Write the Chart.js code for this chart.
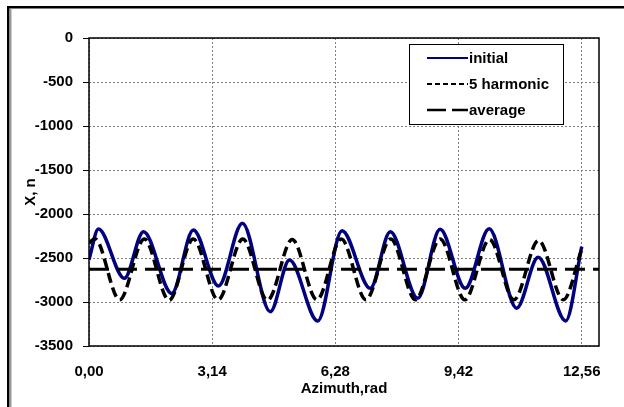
<!DOCTYPE html>
<html>
<head>
<meta charset="utf-8">
<script src="https://cdn.jsdelivr.net/npm/chart.js@4"></script>
<style>
  html, body { margin: 0; padding: 0; background: #fff; }
  canvas { display: block; }
</style>
</head>
<body>
<canvas id="chart" width="624" height="407"></canvas>
<script>
// values
const xTicks = [0, 3.14, 6.28, 9.42, 12.56];

const initX = [0, 0.24, 0.90, 1.39, 2.11, 2.66, 3.30, 3.91, 4.62, 5.11, 5.83, 6.45, 7.17, 7.68, 8.38, 8.95, 9.59, 10.20, 10.90, 11.45, 12.15, 12.56];
const initY = [-2520, -2170, -2731, -2201, -2902, -2182, -2818, -2106, -3110, -2523, -3216, -2190, -2845, -2201, -2958, -2174, -2845, -2168, -3070, -2492, -3215, -2371];

const harmX = [0, 0.15, 0.78, 1.41, 2.04, 2.66, 3.29, 3.92, 4.55, 5.18, 5.81, 6.43, 7.06, 7.69, 8.32, 8.95, 9.58, 10.21, 10.83, 11.46, 12.09, 12.56];
const harmY = [-2330, -2280, -2975, -2285, -2980, -2285, -2975, -2285, -2980, -2290, -2975, -2285, -2975, -2285, -2975, -2285, -2975, -2290, -2975, -2300, -2975, -2400];

const avgX = [0, 13];
const avgY = [-2628, -2628];

const FONT = "'Liberation Sans', Arial, sans-serif";

function pts(xs, ys) {
  return xs.map((x, i) => ({ x: x, y: ys[i] }));
}

// white background, outer frame, plot frame and the boxed legend
const framePlugin = {
  id: 'frame',
  beforeDraw(chart) {
    const ctx = chart.ctx;
    ctx.save();
    ctx.fillStyle = '#fff';
    ctx.fillRect(0, 0, chart.width, chart.height);
    ctx.fillStyle = '#000';
    ctx.fillRect(7, 6, chart.width - 7, 2.5);
    ctx.fillRect(7, 6, 2.5, chart.height - 6);
    ctx.fillStyle = '#999';
    ctx.fillRect(9.5, 8.5, 2, chart.height - 8.5);
    ctx.restore();
  },
  afterDraw(chart) {
    const ctx = chart.ctx;
    const a = chart.chartArea;
    ctx.save();
    ctx.strokeStyle = '#000';
    ctx.lineWidth = 1.5;
    ctx.strokeRect(a.left, a.top, a.right - a.left, a.bottom - a.top);

    // legend
    const bx = 409.5, by = 44.5, bw = 154, bh = 80;
    ctx.fillStyle = '#fff';
    ctx.fillRect(bx, by, bw, bh);
    ctx.lineWidth = 1;
    ctx.strokeStyle = '#000';
    ctx.strokeRect(bx, by, bw, bh);
    const rows = [58, 84, 110];
    const dashes = [[], [5, 3], [19, 6]];
    const widths = [2, 2, 2.5];
    chart.data.datasets.forEach((ds, i) => {
      ctx.beginPath();
      ctx.setLineDash(dashes[i]);
      ctx.lineWidth = widths[i];
      ctx.strokeStyle = ds.borderColor;
      ctx.moveTo(427, rows[i]);
      ctx.lineTo(468, rows[i]);
      ctx.stroke();
      ctx.setLineDash([]);
      ctx.fillStyle = '#000';
      ctx.font = 'bold 15px ' + FONT;
      ctx.textBaseline = 'middle';
      ctx.textAlign = 'left';
      ctx.fillText(ds.label, 469, rows[i] + 1);
    });
    ctx.restore();
  }
};

new Chart(document.getElementById('chart'), {
  type: 'line',
  data: {
    datasets: [
      {
        label: 'initial',
        data: pts(initX, initY),
        borderColor: '#000080',
        borderWidth: 3.5,
        cubicInterpolationMode: 'monotone',
        pointRadius: 0,
        order: 3
      },
      {
        label: '5 harmonic',
        data: pts(harmX, harmY),
        borderColor: '#000',
        borderWidth: 3.5,
        borderDash: [10, 5],
        cubicInterpolationMode: 'monotone',
        pointRadius: 0,
        order: 2
      },
      {
        label: 'average',
        data: pts(avgX, avgY),
        borderColor: '#000',
        borderWidth: 3,
        borderDash: [20, 8],
        pointRadius: 0,
        order: 1
      }
    ]
  },
  options: {
    responsive: false,
    animation: false,
    layout: { padding: { left: 12, top: 38, right: 25, bottom: 0 } },
    plugins: {
      legend: { display: false },
      tooltip: { enabled: false }
    },
    scales: {
      x: {
        type: 'linear',
        min: 0,
        max: 13,
        afterBuildTicks: s => { s.ticks = xTicks.map(v => ({ value: v })); },
        afterFit: s => { s.height = 61; },
        ticks: {
          padding: 17,
          color: '#000',
          font: { family: FONT, size: 15, weight: 'bold' },
          maxRotation: 0,
          autoSkip: false,
          callback: v => v.toFixed(2).replace('.', ',')
        },
        grid: { color: '#808080', lineWidth: 1, drawTicks: false },
        border: { display: false, dash: [2, 2] },
        title: {
          display: true,
          text: 'Azimuth,rad',
          color: '#000',
          font: { family: FONT, size: 15, weight: 'bold' },
          padding: { top: 0, bottom: 9 }
        }
      },
      y: {
        min: -3500,
        max: 0,
        afterFit: s => { s.width = 77; },
        ticks: {
          stepSize: 500,
          padding: 10,
          color: '#000',
          font: { family: FONT, size: 15, weight: 'bold' },
          callback: v => String(v)
        },
        grid: { color: '#808080', lineWidth: 1, tickLength: 6, tickColor: '#000', tickBorderDash: [] },
        border: { display: false, dash: [2, 2] },
        title: {
          display: true,
          text: 'X, n',
          color: '#000',
          font: { family: FONT, size: 15, weight: 'bold' },
          padding: { top: 10, bottom: 0 }
        }
      }
    }
  },
  plugins: [framePlugin]
});
</script>
</body>
</html>
